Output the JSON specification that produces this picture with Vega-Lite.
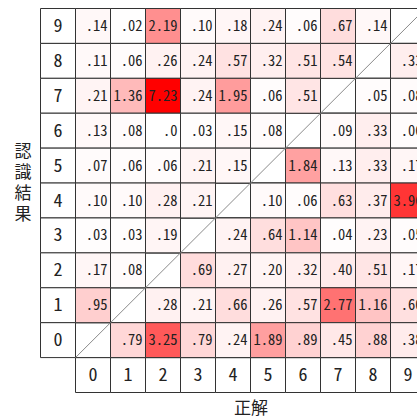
{
  "$schema": "https://vega.github.io/schema/vega-lite/v6.json",
  "width": 385,
  "height": 384,
  "autosize": {"type": "none"},
  "padding": {"left": 40.5, "top": 8.5, "right": 0, "bottom": 26.5},
  "background": "white",
  "config": {"view": {"stroke": null}},
  "data": {
    "values": [
      {"r": "9", "c": "-", "k": "h", "t": "9"},
      {"r": "8", "c": "-", "k": "h", "t": "8"},
      {"r": "7", "c": "-", "k": "h", "t": "7"},
      {"r": "6", "c": "-", "k": "h", "t": "6"},
      {"r": "5", "c": "-", "k": "h", "t": "5"},
      {"r": "4", "c": "-", "k": "h", "t": "4"},
      {"r": "3", "c": "-", "k": "h", "t": "3"},
      {"r": "2", "c": "-", "k": "h", "t": "2"},
      {"r": "1", "c": "-", "k": "h", "t": "1"},
      {"r": "0", "c": "-", "k": "h", "t": "0"},
      {"r": "-", "c": "0", "k": "h", "t": "0"},
      {"r": "-", "c": "1", "k": "h", "t": "1"},
      {"r": "-", "c": "2", "k": "h", "t": "2"},
      {"r": "-", "c": "3", "k": "h", "t": "3"},
      {"r": "-", "c": "4", "k": "h", "t": "4"},
      {"r": "-", "c": "5", "k": "h", "t": "5"},
      {"r": "-", "c": "6", "k": "h", "t": "6"},
      {"r": "-", "c": "7", "k": "h", "t": "7"},
      {"r": "-", "c": "8", "k": "h", "t": "8"},
      {"r": "-", "c": "9", "k": "h", "t": "9"},
      {"r": "0", "c": "0", "k": "d"},
      {"r": "1", "c": "1", "k": "d"},
      {"r": "2", "c": "2", "k": "d"},
      {"r": "3", "c": "3", "k": "d"},
      {"r": "4", "c": "4", "k": "d"},
      {"r": "5", "c": "5", "k": "d"},
      {"r": "6", "c": "6", "k": "d"},
      {"r": "7", "c": "7", "k": "d"},
      {"r": "8", "c": "8", "k": "d"},
      {"r": "9", "c": "9", "k": "d"},
      {"r": "9", "c": "0", "k": "v", "v": 0.14, "t": ".14"},
      {"r": "9", "c": "1", "k": "v", "v": 0.02, "t": ".02"},
      {"r": "9", "c": "2", "k": "v", "v": 2.19, "t": "2.19"},
      {"r": "9", "c": "3", "k": "v", "v": 0.10, "t": ".10"},
      {"r": "9", "c": "4", "k": "v", "v": 0.18, "t": ".18"},
      {"r": "9", "c": "5", "k": "v", "v": 0.24, "t": ".24"},
      {"r": "9", "c": "6", "k": "v", "v": 0.06, "t": ".06"},
      {"r": "9", "c": "7", "k": "v", "v": 0.67, "t": ".67"},
      {"r": "9", "c": "8", "k": "v", "v": 0.14, "t": ".14"},
      {"r": "8", "c": "0", "k": "v", "v": 0.11, "t": ".11"},
      {"r": "8", "c": "1", "k": "v", "v": 0.06, "t": ".06"},
      {"r": "8", "c": "2", "k": "v", "v": 0.26, "t": ".26"},
      {"r": "8", "c": "3", "k": "v", "v": 0.24, "t": ".24"},
      {"r": "8", "c": "4", "k": "v", "v": 0.57, "t": ".57"},
      {"r": "8", "c": "5", "k": "v", "v": 0.32, "t": ".32"},
      {"r": "8", "c": "6", "k": "v", "v": 0.51, "t": ".51"},
      {"r": "8", "c": "7", "k": "v", "v": 0.54, "t": ".54"},
      {"r": "8", "c": "9", "k": "v", "v": 0.33, "t": ".33"},
      {"r": "7", "c": "0", "k": "v", "v": 0.21, "t": ".21"},
      {"r": "7", "c": "1", "k": "v", "v": 1.36, "t": "1.36"},
      {"r": "7", "c": "2", "k": "v", "v": 7.23, "t": "7.23"},
      {"r": "7", "c": "3", "k": "v", "v": 0.24, "t": ".24"},
      {"r": "7", "c": "4", "k": "v", "v": 1.95, "t": "1.95"},
      {"r": "7", "c": "5", "k": "v", "v": 0.06, "t": ".06"},
      {"r": "7", "c": "6", "k": "v", "v": 0.51, "t": ".51"},
      {"r": "7", "c": "8", "k": "v", "v": 0.05, "t": ".05"},
      {"r": "7", "c": "9", "k": "v", "v": 0.08, "t": ".08"},
      {"r": "6", "c": "0", "k": "v", "v": 0.13, "t": ".13"},
      {"r": "6", "c": "1", "k": "v", "v": 0.08, "t": ".08"},
      {"r": "6", "c": "2", "k": "v", "v": 0.0, "t": ".0"},
      {"r": "6", "c": "3", "k": "v", "v": 0.03, "t": ".03"},
      {"r": "6", "c": "4", "k": "v", "v": 0.15, "t": ".15"},
      {"r": "6", "c": "5", "k": "v", "v": 0.08, "t": ".08"},
      {"r": "6", "c": "7", "k": "v", "v": 0.09, "t": ".09"},
      {"r": "6", "c": "8", "k": "v", "v": 0.33, "t": ".33"},
      {"r": "6", "c": "9", "k": "v", "v": 0.06, "t": ".06"},
      {"r": "5", "c": "0", "k": "v", "v": 0.07, "t": ".07"},
      {"r": "5", "c": "1", "k": "v", "v": 0.06, "t": ".06"},
      {"r": "5", "c": "2", "k": "v", "v": 0.06, "t": ".06"},
      {"r": "5", "c": "3", "k": "v", "v": 0.21, "t": ".21"},
      {"r": "5", "c": "4", "k": "v", "v": 0.15, "t": ".15"},
      {"r": "5", "c": "6", "k": "v", "v": 1.84, "t": "1.84"},
      {"r": "5", "c": "7", "k": "v", "v": 0.13, "t": ".13"},
      {"r": "5", "c": "8", "k": "v", "v": 0.33, "t": ".33"},
      {"r": "5", "c": "9", "k": "v", "v": 0.17, "t": ".17"},
      {"r": "4", "c": "0", "k": "v", "v": 0.10, "t": ".10"},
      {"r": "4", "c": "1", "k": "v", "v": 0.10, "t": ".10"},
      {"r": "4", "c": "2", "k": "v", "v": 0.28, "t": ".28"},
      {"r": "4", "c": "3", "k": "v", "v": 0.21, "t": ".21"},
      {"r": "4", "c": "5", "k": "v", "v": 0.10, "t": ".10"},
      {"r": "4", "c": "6", "k": "v", "v": 0.06, "t": ".06"},
      {"r": "4", "c": "7", "k": "v", "v": 0.63, "t": ".63"},
      {"r": "4", "c": "8", "k": "v", "v": 0.37, "t": ".37"},
      {"r": "4", "c": "9", "k": "v", "v": 3.96, "t": "3.96"},
      {"r": "3", "c": "0", "k": "v", "v": 0.03, "t": ".03"},
      {"r": "3", "c": "1", "k": "v", "v": 0.03, "t": ".03"},
      {"r": "3", "c": "2", "k": "v", "v": 0.19, "t": ".19"},
      {"r": "3", "c": "4", "k": "v", "v": 0.24, "t": ".24"},
      {"r": "3", "c": "5", "k": "v", "v": 0.64, "t": ".64"},
      {"r": "3", "c": "6", "k": "v", "v": 1.14, "t": "1.14"},
      {"r": "3", "c": "7", "k": "v", "v": 0.04, "t": ".04"},
      {"r": "3", "c": "8", "k": "v", "v": 0.23, "t": ".23"},
      {"r": "3", "c": "9", "k": "v", "v": 0.05, "t": ".05"},
      {"r": "2", "c": "0", "k": "v", "v": 0.17, "t": ".17"},
      {"r": "2", "c": "1", "k": "v", "v": 0.08, "t": ".08"},
      {"r": "2", "c": "3", "k": "v", "v": 0.69, "t": ".69"},
      {"r": "2", "c": "4", "k": "v", "v": 0.27, "t": ".27"},
      {"r": "2", "c": "5", "k": "v", "v": 0.20, "t": ".20"},
      {"r": "2", "c": "6", "k": "v", "v": 0.32, "t": ".32"},
      {"r": "2", "c": "7", "k": "v", "v": 0.40, "t": ".40"},
      {"r": "2", "c": "8", "k": "v", "v": 0.51, "t": ".51"},
      {"r": "2", "c": "9", "k": "v", "v": 0.17, "t": ".17"},
      {"r": "1", "c": "0", "k": "v", "v": 0.95, "t": ".95"},
      {"r": "1", "c": "2", "k": "v", "v": 0.28, "t": ".28"},
      {"r": "1", "c": "3", "k": "v", "v": 0.21, "t": ".21"},
      {"r": "1", "c": "4", "k": "v", "v": 0.66, "t": ".66"},
      {"r": "1", "c": "5", "k": "v", "v": 0.26, "t": ".26"},
      {"r": "1", "c": "6", "k": "v", "v": 0.57, "t": ".57"},
      {"r": "1", "c": "7", "k": "v", "v": 2.77, "t": "2.77"},
      {"r": "1", "c": "8", "k": "v", "v": 1.16, "t": "1.16"},
      {"r": "1", "c": "9", "k": "v", "v": 0.60, "t": ".60"},
      {"r": "0", "c": "1", "k": "v", "v": 0.79, "t": ".79"},
      {"r": "0", "c": "2", "k": "v", "v": 3.25, "t": "3.25"},
      {"r": "0", "c": "3", "k": "v", "v": 0.79, "t": ".79"},
      {"r": "0", "c": "4", "k": "v", "v": 0.24, "t": ".24"},
      {"r": "0", "c": "5", "k": "v", "v": 1.89, "t": "1.89"},
      {"r": "0", "c": "6", "k": "v", "v": 0.89, "t": ".89"},
      {"r": "0", "c": "7", "k": "v", "v": 0.45, "t": ".45"},
      {"r": "0", "c": "8", "k": "v", "v": 0.88, "t": ".88"},
      {"r": "0", "c": "9", "k": "v", "v": 0.38, "t": ".38"}
    ]
  },
  "encoding": {
    "x": {
      "field": "c",
      "type": "ordinal",
      "scale": {"domain": ["-", "0", "1", "2", "3", "4", "5", "6", "7", "8", "9"], "paddingInner": 0, "paddingOuter": 0},
      "axis": {
        "title": "正解",
        "labels": false,
        "ticks": false,
        "domain": false,
        "titleFont": "Noto Sans CJK JP",
        "titleFontSize": 17,
        "titleFontWeight": "normal",
        "titleColor": "#222222",
        "titleX": 210,
        "titleY": 16,
        "titleAlign": "center",
        "titleBaseline": "middle"
      }
    },
    "y": {
      "field": "r",
      "type": "ordinal",
      "scale": {"domain": ["9", "8", "7", "6", "5", "4", "3", "2", "1", "0", "-"], "paddingInner": 0, "paddingOuter": 0},
      "axis": {
        "title": ["認", "識", "結", "果"],
        "labels": false,
        "ticks": false,
        "domain": false,
        "titleAngle": 0,
        "titleFont": "Noto Sans CJK JP",
        "titleFontSize": 17,
        "titleFontWeight": "normal",
        "titleColor": "#222222",
        "titleLineHeight": 21,
        "titleX": -18,
        "titleY": 143,
        "titleAlign": "center",
        "titleBaseline": "middle"
      }
    }
  },
  "layer": [
    {
      "mark": {"type": "rect", "fill": "white", "stroke": "#333333", "strokeWidth": 1}
    },
    {
      "transform": [{"filter": "datum.k === 'v'"}],
      "mark": {"type": "rect", "stroke": "#333333", "strokeWidth": 1},
      "encoding": {
        "fill": {
          "field": "v",
          "type": "quantitative",
          "scale": {"domain": [0, 5], "range": ["#ffffff", "#ff0000"], "clamp": true, "interpolate": "rgb"},
          "legend": null
        }
      }
    },
    {
      "transform": [{"filter": "datum.k === 'd'"}],
      "mark": {"type": "rule", "color": "#8a8a8a", "strokeWidth": 1},
      "encoding": {
        "x": {"field": "c", "type": "ordinal", "bandPosition": 0},
        "x2": {"field": "c", "bandPosition": 1},
        "y": {"field": "r", "type": "ordinal", "bandPosition": 1},
        "y2": {"field": "r", "bandPosition": 0}
      }
    },
    {
      "transform": [{"filter": "datum.k === 'v'"}],
      "mark": {"type": "text", "align": "right", "baseline": "middle", "dx": -3, "dy": 1, "font": "Noto Sans Mono CJK JP, DejaVu Sans Mono", "fontSize": 14.5, "color": "#222222"},
      "encoding": {
        "x": {"field": "c", "type": "ordinal", "bandPosition": 1},
        "text": {"field": "t"}
      }
    },
    {
      "transform": [{"filter": "datum.k === 'h'"}],
      "mark": {"type": "text", "align": "center", "baseline": "middle", "dy": 1, "font": "Noto Sans Mono CJK JP, DejaVu Sans Mono", "fontSize": 18, "color": "#222222"},
      "encoding": {
        "text": {"field": "t"}
      }
    }
  ]
}
